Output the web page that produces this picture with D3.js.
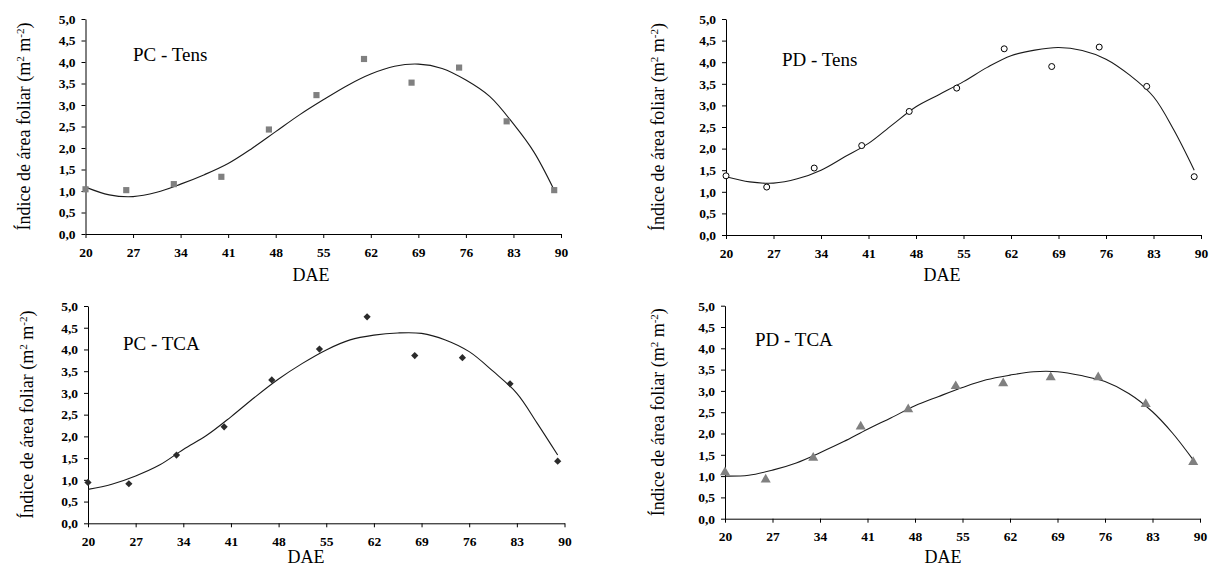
<!DOCTYPE html>
<html>
<head>
<meta charset="utf-8">
<script src="https://cdn.jsdelivr.net/npm/d3@7"></script>
<style>
  body { margin: 0; background: #fff; }
  svg { display: block; }
  text { font-family: "Liberation Serif", "Times New Roman", serif; }
</style>
</head>
<body>
<div id="chart"></div>
<script>
// measured days (DAE)
const days = [20, 26, 33, 40, 47, 54, 61, 68, 75, 82, 89];
const xTicks = [20, 27, 34, 41, 48, 55, 62, 69, 76, 83, 90];
const yTicks = [0, 0.5, 1, 1.5, 2, 2.5, 3, 3.5, 4, 4.5, 5];

// observed leaf area index
const pcTens = [1.04, 1.02, 1.16, 1.33, 2.43, 3.23, 4.07, 3.52, 3.87, 2.62, 1.02];
const pdTens = [1.37, 1.11, 1.55, 2.07, 2.86, 3.40, 4.31, 3.90, 4.35, 3.44, 1.35];
const pcTca  = [0.94, 0.91, 1.57, 2.22, 3.30, 4.01, 4.75, 3.86, 3.81, 3.21, 1.43];
const pdTca  = [1.09, 0.92, 1.43, 2.16, 2.57, 3.11, 3.18, 3.32, 3.32, 2.69, 1.33];

// trend line
const trendDays = [20, 23.5, 27, 30.5, 34, 37.5, 41, 44.5, 48, 51.5, 55, 58.5, 62, 65.5, 69, 72.5, 76, 79.5, 83, 86, 89];
const pcTensFit = [1.09, 0.91, 0.87, 0.97, 1.16, 1.38, 1.64, 1.99, 2.38, 2.77, 3.12, 3.45, 3.72, 3.90, 3.95, 3.85, 3.58, 3.20, 2.56, 1.91, 1.02];
const pdTensFit = [1.35, 1.23, 1.20, 1.30, 1.50, 1.81, 2.12, 2.55, 2.97, 3.26, 3.55, 3.88, 4.15, 4.28, 4.34, 4.27, 4.07, 3.70, 3.20, 2.43, 1.50];
const pcTcaFit  = [0.78, 0.90, 1.09, 1.34, 1.70, 2.03, 2.45, 2.90, 3.32, 3.68, 3.99, 4.22, 4.33, 4.38, 4.37, 4.22, 3.95, 3.50, 2.99, 2.30, 1.57];
const pdTcaFit  = [1.00, 1.02, 1.14, 1.31, 1.55, 1.81, 2.10, 2.37, 2.65, 2.87, 3.08, 3.26, 3.37, 3.45, 3.45, 3.36, 3.22, 2.94, 2.51, 2.00, 1.38];

const width = 1209;
const height = 567;
const serif = "'Liberation Serif', 'Times New Roman', serif";

const svg = d3.select("#chart").append("svg")
    .attr("width", width)
    .attr("height", height);

const panels = [
    { title: "PC - Tens", obs: pcTens, fit: pcTensFit, marker: "square",
      x0: 85.5, x1: 561, y0: 234, y1: 19, titleX: 133, titleY: 61, labelX: 30, daeX: 311, daeY: 281 },
    { title: "PD - Tens", obs: pdTens, fit: pdTensFit, marker: "circle",
      x0: 726, x1: 1201, y0: 235, y1: 19, titleX: 782, titleY: 66, labelX: 664, daeX: 942, daeY: 281 },
    { title: "PC - TCA", obs: pcTca, fit: pcTcaFit, marker: "diamond",
      x0: 88, x1: 564.5, y0: 523.3, y1: 306, titleX: 123, titleY: 350, labelX: 33, daeX: 306, daeY: 563 },
    { title: "PD - TCA", obs: pdTca, fit: pdTcaFit, marker: "triangle",
      x0: 725, x1: 1200, y0: 518.7, y1: 305.7, titleX: 755, titleY: 346, labelX: 664, daeX: 943, daeY: 563 }
];

const fmt = d => d3.format(".1f")(d).replace(".", ",");

const drawPanel = p => {
    const xScale = d3.scaleLinear().domain([20, 90]).range([p.x0, p.x1]);
    const yScale = d3.scaleLinear().domain([0, 5]).range([p.y0, p.y1]);

    const g = svg.append("g");

    const xAxis = d3.axisBottom(xScale)
        .tickValues(xTicks)
        .tickSize(4)
        .tickSizeOuter(0)
        .tickPadding(9);

    const yAxis = d3.axisLeft(yScale)
        .tickValues(yTicks)
        .tickSize(4)
        .tickSizeOuter(0)
        .tickPadding(6)
        .tickFormat(fmt);

    const xAxisG = g.append("g")
        .attr("transform", `translate(0, ${p.y0})`)
        .call(xAxis);
    const yAxisG = g.append("g")
        .attr("transform", `translate(${p.x0}, 0)`)
        .call(yAxis);

    [xAxisG, yAxisG].forEach(a => {
        a.attr("font-family", null);
        a.selectAll("path, line").attr("stroke", "#000").attr("stroke-width", 1);
        a.selectAll("text")
            .attr("fill", "#000")
            .style("font-family", serif)
            .style("font-weight", "bold")
            .style("font-size", "13.5px");
    });

    // trend line
    const line = d3.line()
        .x((d, i) => xScale(trendDays[i]))
        .y(d => yScale(d))
        .curve(d3.curveCatmullRom.alpha(0.5));

    g.append("path")
        .attr("fill", "none")
        .attr("stroke", "#1a1a1a")
        .attr("stroke-width", 1.1)
        .attr("d", line(p.fit));

    // observed points
    const pts = g.append("g").selectAll("g")
        .data(p.obs)
        .join("g")
        .attr("transform", (d, i) => `translate(${xScale(days[i])}, ${yScale(d)})`);

    if (p.marker === "circle") {
        pts.append("circle")
            .attr("r", 3)
            .attr("fill", "#fff")
            .attr("stroke", "#000")
            .attr("stroke-width", 1);
    } else if (p.marker === "diamond") {
        pts.append("path")
            .attr("d", d3.symbol().type(d3.symbolSquare).size(26)())
            .attr("transform", "rotate(45)")
            .attr("fill", "#2b2b2b");
    } else {
        const shape = p.marker === "square" ? d3.symbolSquare : d3.symbolTriangle;
        const size = p.marker === "square" ? 38 : 44;
        pts.append("path")
            .attr("d", d3.symbol().type(shape).size(size)())
            .attr("fill", "#808080");
    }

    // panel title
    g.append("text")
        .attr("x", p.titleX)
        .attr("y", p.titleY)
        .style("font-family", serif)
        .attr("font-size", "19px")
        .attr("fill", "#000")
        .text(p.title);

    // y axis label
    const yLabel = g.append("text")
        .attr("transform", `translate(${p.labelX}, ${(p.y0 + p.y1) / 2}) rotate(-90)`)
        .attr("text-anchor", "middle")
        .style("font-family", serif)
        .attr("font-size", "18px")
        .attr("fill", "#000");
    yLabel.append("tspan").text("Índice de área foliar (m");
    yLabel.append("tspan").attr("dy", -6).attr("font-size", "11px").text("2");
    yLabel.append("tspan").attr("dy", 6).text(" m");
    yLabel.append("tspan").attr("dy", -6).attr("font-size", "11px").text("-2");
    yLabel.append("tspan").attr("dy", 6).text(")");

    // x axis label
    g.append("text")
        .attr("x", p.daeX)
        .attr("y", p.daeY)
        .attr("text-anchor", "middle")
        .style("font-family", serif)
        .attr("font-size", "18px")
        .attr("fill", "#000")
        .text("DAE");
};

panels.forEach(drawPanel);
</script>
</body>
</html>
